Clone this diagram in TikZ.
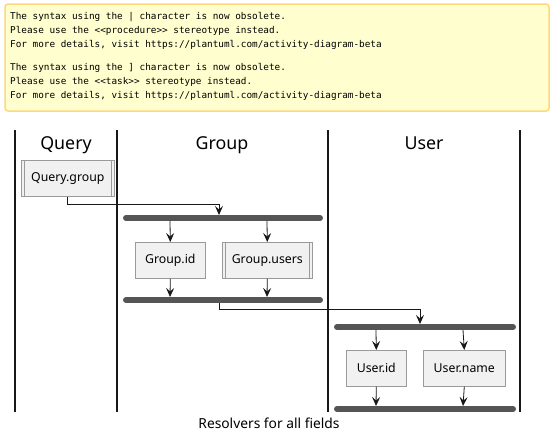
\documentclass[tikz,border=0pt]{standalone}
\usepackage{fontspec}
\setmainfont{Noto Sans}
\setmonofont{DejaVu Sans Mono}
\usetikzlibrary{arrows.meta}
\definecolor{notefill}{HTML}{FEFECE}
\definecolor{noteline}{HTML}{FFD87A}
\definecolor{boxfill}{HTML}{F1F1F1}
\definecolor{boxline}{HTML}{9A9A9A}
\definecolor{barcol}{HTML}{555555}
\definecolor{lanecol}{HTML}{181818}
\begin{document}
\begin{tikzpicture}[x=1pt,y=-1pt,
  act/.style={draw=boxline,fill=boxfill,line width=0.6pt,font=\fontsize{12.3}{14}\selectfont,inner sep=0pt,minimum height=36pt,anchor=north west},
  lane/.style={draw=lanecol,line width=1.3pt},
  hdr/.style={font=\fontsize{17.8}{20}\selectfont,anchor=base,inner sep=0pt},
  bar/.style={draw=barcol,line width=6pt,line cap=round},
  flow/.style={draw=lanecol,line width=0.8pt,-{Stealth[length=9pt,width=8pt,inset=3.5pt]}},
  notetext/.style={font=\ttfamily\fontsize{9.35}{14}\selectfont,align=left,anchor=north west,inner sep=0pt}]
\useasboundingbox (0,0) rectangle (555,447);
% note
\draw[draw=noteline,fill=notefill,line width=1.5pt,rounded corners=3pt] (5,4) rectangle (549,111);
\node[notetext] (n1) at (10,12) {The syntax using the | character is now obsolete.\\Please use the <{}<procedure>{}> stereotype instead.\\For more details, visit https://plantuml.com/activity-diagram-beta};
\node[notetext] (n2) at (10,63) {The syntax using the ] character is now obsolete.\\Please use the <{}<task>{}> stereotype instead.\\For more details, visit https://plantuml.com/activity-diagram-beta};
% lanes
\foreach \x in {15,117,328,520} \draw[lane] (\x,130) -- (\x,412);
\node[hdr] (hq) at (66,149.5) {Query};
\node[hdr] (hg) at (222,149.5) {Group};
\node[hdr] (hu) at (424,149.5) {User};
% activities
\node[act,minimum width=93pt] (qg) at (21,160) {Query.group};
\draw[boxline,line width=0.6pt] ([xshift=3pt]qg.north west) -- ([xshift=3pt]qg.south west) ([xshift=-3pt]qg.north east) -- ([xshift=-3pt]qg.south east);
\node[act,minimum width=70pt] (gid) at (135,242) {Group.id};
\node[act,minimum width=90pt] (gus) at (222,242) {Group.users};
\draw[boxline,line width=0.6pt] ([xshift=3pt]gus.north west) -- ([xshift=3pt]gus.south west) ([xshift=-3pt]gus.north east) -- ([xshift=-3pt]gus.south east);
\node[act,minimum width=60pt] (uid) at (346,350) {User.id};
\node[act,minimum width=82pt] (unm) at (423,350) {User.name};
% bars
\coordinate (b1l) at (126,218); \coordinate (b1r) at (320,218);
\coordinate (b2l) at (126,300); \coordinate (b2r) at (320,300);
\coordinate (b3l) at (337,327); \coordinate (b3r) at (513,327);
\coordinate (b4l) at (337,409); \coordinate (b4r) at (513,409);
\draw[bar] (b1l) -- (b1r);
\draw[bar] (b2l) -- (b2r);
\draw[bar] (b3l) -- (b3r);
\draw[bar] (b4l) -- (b4r);
% flows
\coordinate (f1) at (219,215);
\draw[flow] (qg.south) -- ++(0,8) -| (f1);
\draw[flow] (170,221) -- (gid.north);
\draw[flow] (267,221) -- (gus.north);
\draw[flow] (gid.south) -- (170,297);
\draw[flow] (gus.south) -- (267,297);
\coordinate (f2) at (420,324);
\draw[flow] (219,303) -- ++(0,6) -| (f2);
\draw[flow] (376,330) -- (uid.north);
\draw[flow] (463,330) -- (unm.north);
\draw[flow] (uid.south) -- (376,406);
\draw[flow] (unm.south) -- (463,406);
% caption
\node[font=\fontsize{13.8}{16}\selectfont] (cap) at (269,423) {Resolvers for all fields};
\end{tikzpicture}
\end{document}
